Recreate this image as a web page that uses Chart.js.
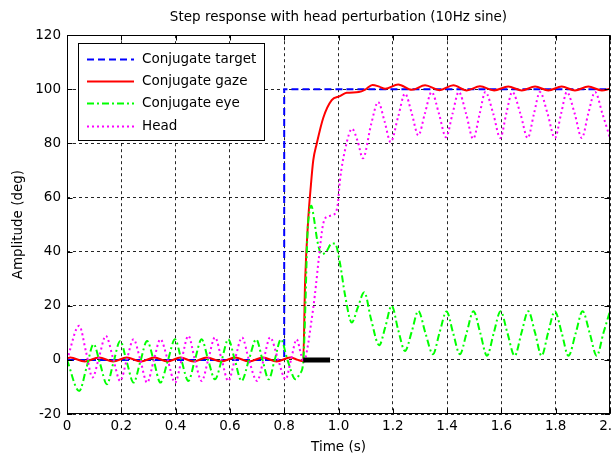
<!DOCTYPE html>
<html>
<head>
<meta charset="utf-8">
<script src="https://cdn.jsdelivr.net/npm/chart.js@4.4.1/dist/chart.umd.min.js"></script>
<style>
  html, body { margin: 0; padding: 0; background: #fff; overflow: hidden; }
  #wrap { width: 630px; height: 458px; }
</style>
</head>
<body>
<div id="wrap"><canvas id="c" width="630" height="458"></canvas></div>
<script>
// ---------- data ----------
const chartTitle = 'Step response with head perturbation (10Hz sine)';
const xTitle = 'Time (s)';
const yTitle = 'Amplitude (deg)';
const seriesNames = ['Conjugate target', 'Conjugate gaze', 'Conjugate eye', 'Head'];

const targetTime = [0, 0.8, 0.8, 2.0];
const targetDeg  = [0, 0, 100, 100];

const gazeTime = [0.000, 0.012, 0.065, 0.118, 0.170, 0.220, 0.272, 0.322, 0.370, 0.418, 0.466, 0.515, 0.568, 0.619, 0.670, 0.722, 0.772, 0.822, 0.850, 0.870,
                  0.877, 0.889, 0.897, 0.907, 0.920, 0.944, 0.975, 1.005, 1.030, 1.075, 1.100, 1.125, 1.150, 1.172, 1.220, 1.270, 1.319, 1.372, 1.423, 1.472,
                  1.521, 1.573, 1.625, 1.675, 1.724, 1.773, 1.822, 1.871, 1.920, 1.970, 2.000];
const gazeDeg  = [0.5, 0.9, -0.6, 0.9, -0.6, 0.9, -0.6, 0.9, -0.6, 0.9, -0.6, 0.9, -0.6, 0.9, -0.6, 0.9, -0.6, 0.9, 0.0, -0.4,
                  29, 52.7, 63, 73.7, 80, 89.5, 96, 97.5, 98.7, 99, 100, 101.6, 101, 100.2, 101.8, 99.8, 101.5, 99.7, 101.5, 99.6,
                  101.1, 99.6, 101, 99.6, 101, 99.6, 101, 99.6, 101, 99.6, 100.2];

const eyeTime = [0.000, 0.045, 0.072, 0.098, 0.122, 0.147, 0.171, 0.196, 0.220, 0.245, 0.270, 0.295, 0.320, 0.344, 0.371, 0.398, 0.422, 0.447, 0.471, 0.496,
                 0.520, 0.545, 0.570, 0.594, 0.618, 0.643, 0.670, 0.697, 0.720, 0.743, 0.765, 0.788, 0.812, 0.842, 0.858, 0.870, 0.878, 0.885, 0.893, 0.900,
                 0.910, 0.922, 0.938, 0.955, 0.975, 0.987, 1.005, 1.024, 1.049, 1.070, 1.095, 1.120, 1.150, 1.172, 1.196, 1.220, 1.245, 1.270, 1.294, 1.320,
                 1.348, 1.372, 1.398, 1.422, 1.447, 1.472, 1.497, 1.522, 1.547, 1.572, 1.597, 1.622, 1.649, 1.674, 1.699, 1.724, 1.748, 1.772, 1.797, 1.822,
                 1.847, 1.874, 1.899, 1.925, 1.951, 1.976, 2.000];
const eyeDeg  = [0, -11.5, -2.8, 5.8, -1.5, -9, -1, 7, -0.7, -8.4, -0.7, 7, -0.5, -8.4, -0.4, 7.6, -0.3, -7.8, 0, 7.6,
                 0, -7.2, 0, 7.6, 0, -7.8, 0, 7.6, 0, -7.2, 0, 7.6, 0, -7.2, -5, -1, 20, 45, 55, 57,
                 52, 44, 39, 40, 43, 43, 36, 24, 13.8, 19, 25, 15, 5.4, 12, 20, 11, 3.3, 10.5, 18.1, 10,
                 2.1, 10, 17.9, 10, 2.1, 10, 18, 10, 1.5, 10, 18, 10, 1.5, 10, 18, 10, 1.5, 10, 18, 10,
                 1.5, 10, 18, 10, 1.5, 10, 18];

const headTime = [0.000, 0.045, 0.070, 0.094, 0.118, 0.143, 0.170, 0.196, 0.220, 0.245, 0.270, 0.295, 0.320, 0.344, 0.371, 0.398, 0.422, 0.447, 0.471, 0.496,
                  0.520, 0.545, 0.570, 0.594, 0.618, 0.645, 0.670, 0.700, 0.724, 0.748, 0.778, 0.805, 0.825, 0.846, 0.862, 0.872, 0.885, 0.897, 0.913, 0.928,
                  0.943, 0.960, 0.987, 0.998, 1.005, 1.025, 1.050, 1.070, 1.090, 1.120, 1.146, 1.170, 1.192, 1.220, 1.245, 1.270, 1.294, 1.318, 1.343, 1.370,
                  1.396, 1.420, 1.443, 1.470, 1.496, 1.520, 1.541, 1.570, 1.596, 1.618, 1.640, 1.670, 1.697, 1.720, 1.742, 1.770, 1.797, 1.820, 1.841, 1.870,
                  1.896, 1.920, 1.945, 1.972, 2.000];
const headDeg  = [0, 12.6, 3, -6.5, 1, 8.9, 0.5, -7.8, 0, 7.6, 0, -8.4, 0, 7.6, 0, -8.4, 0, 8.9, 0, -7.8,
                  0, 8.3, 0, -7.8, 0, 8.3, 0, -7.8, 0, 8.3, 0, -7.2, 0, 7.6, 2, -1, 4, 12, 24, 38,
                  50, 53, 54, 58, 66, 78, 85.4, 81, 74.5, 87, 95.3, 88, 80.5, 90, 98.4, 91, 83, 91, 99, 91,
                  82.3, 91, 99, 91, 81.7, 91, 99, 91, 82, 91, 99, 91, 82, 91, 99, 91, 82, 91, 99, 91,
                  82, 91, 99, 91, 82];

const markerTime = [0.87, 0.969];
const markerDeg  = [0, 0];

const xMin = 0, xMax = 2, xStep = 0.2;
const yMin = -20, yMax = 120, yStep = 20;

// ---------- build ----------
const pts = (t, v) => t.map((x, i) => ({ x: x, y: v[i] }));
const FONT = 'DejaVu Sans';

const styles = [
  { color: '#0000ff', dash: [7, 4] },
  { color: '#ff0000', dash: [] },
  { color: '#00ff00', dash: [7, 3, 2, 3] },
  { color: '#ff00ff', dash: [2, 3] }
];

const datasets = [
  { label: 'marker', data: pts(markerTime, markerDeg), borderColor: '#000', borderWidth: 5, tension: 0, borderCapStyle: 'butt' },
  { label: seriesNames[3], data: pts(headTime, headDeg), borderColor: styles[3].color, borderDash: styles[3].dash, borderWidth: 2, cubicInterpolationMode: 'monotone' },
  { label: seriesNames[2], data: pts(eyeTime, eyeDeg), borderColor: styles[2].color, borderDash: styles[2].dash, borderWidth: 2, cubicInterpolationMode: 'monotone' },
  { label: seriesNames[1], data: pts(gazeTime, gazeDeg), borderColor: styles[1].color, borderDash: styles[1].dash, borderWidth: 2, cubicInterpolationMode: 'monotone' },
  { label: seriesNames[0], data: pts(targetTime, targetDeg), borderColor: styles[0].color, borderDash: styles[0].dash, borderWidth: 2, tension: 0 }
];

const framePlugin = {
  id: 'frame',
  afterDatasetsDraw(chart) {
    const { ctx, chartArea: a, scales } = chart;
    ctx.save();
    // legend
    const lx = 78.5, ly = 43.5, lw = 186, lh = 97;
    ctx.fillStyle = '#fff';
    ctx.fillRect(lx, ly, lw, lh);
    ctx.strokeStyle = '#000';
    ctx.lineWidth = 1;
    ctx.setLineDash([]);
    ctx.strokeRect(lx, ly, lw, lh);
    const rows = [59.5, 81.5, 103.5, 126.5];
    ctx.font = '13.5px "' + FONT + '"';
    ctx.textBaseline = 'middle';
    ctx.textAlign = 'left';
    for (let i = 0; i < 4; i++) {
      ctx.beginPath();
      ctx.strokeStyle = styles[i].color;
      ctx.lineWidth = 2;
      ctx.setLineDash(styles[i].dash);
      ctx.moveTo(87, rows[i]);
      ctx.lineTo(134, rows[i]);
      ctx.stroke();
      ctx.fillStyle = '#000';
      ctx.fillText(seriesNames[i], 142, rows[i]);
    }
    // axes box
    ctx.setLineDash([]);
    ctx.strokeStyle = '#000';
    ctx.lineWidth = 1;
    const L = Math.round(a.left) + 0.5, R = Math.round(a.right) - 0.5;
    const T = Math.round(a.top) + 0.5, B = Math.round(a.bottom) - 0.5;
    ctx.strokeRect(L, T, R - L, B - T);
    // inside tick marks
    ctx.beginPath();
    const tl = 5;
    scales.x.ticks.forEach(t => {
      const px = Math.round(scales.x.getPixelForValue(t.value)) + 0.5;
      ctx.moveTo(px, B); ctx.lineTo(px, B - tl);
      ctx.moveTo(px, T); ctx.lineTo(px, T + tl);
    });
    scales.y.ticks.forEach(t => {
      const py = Math.round(scales.y.getPixelForValue(t.value)) + 0.5;
      ctx.moveTo(L, py); ctx.lineTo(L + tl, py);
      ctx.moveTo(R, py); ctx.lineTo(R - tl, py);
    });
    ctx.stroke();
    ctx.restore();
  }
};

new Chart(document.getElementById('c'), {
  type: 'line',
  data: { datasets },
  plugins: [framePlugin],
  options: {
    responsive: false,
    animation: false,
    parsing: true,
    elements: { point: { radius: 0 }, line: { fill: false } },
    layout: { padding: { left: 0, right: 20, top: 0, bottom: 0 } },
    plugins: {
      legend: { display: false },
      tooltip: { enabled: false },
      title: {
        display: true, text: chartTitle, fullSize: false,
        color: '#000', font: { family: FONT, size: 13.5, weight: 'normal' },
        padding: { top: 9, bottom: 10 }
      }
    },
    scales: {
      x: {
        type: 'linear', min: xMin, max: xMax,
        ticks: { stepSize: xStep, color: '#000', font: { family: FONT, size: 13.5 }, padding: 4, maxRotation: 0, autoSkip: false },
        grid: { color: 'rgba(0,0,0,0.85)', lineWidth: 1, drawTicks: false },
        border: { display: false, dash: [3, 3] },
        title: { display: true, text: xTitle, color: '#000', font: { family: FONT, size: 13.5 }, padding: { top: 0, bottom: 2 } },
        afterFit(s) { s.height = 44; }
      },
      y: {
        type: 'linear', min: yMin, max: yMax,
        ticks: { stepSize: yStep, color: '#000', font: { family: FONT, size: 13.5 }, padding: 6 },
        grid: { color: 'rgba(0,0,0,0.85)', lineWidth: 1, drawTicks: false },
        border: { display: false, dash: [3, 3] },
        title: { display: true, text: yTitle, color: '#000', font: { family: FONT, size: 13.5 }, padding: { top: 10, bottom: 0 } },
        afterFit(s) { s.width = 67; }
      }
    }
  }
});
</script>
</body>
</html>
